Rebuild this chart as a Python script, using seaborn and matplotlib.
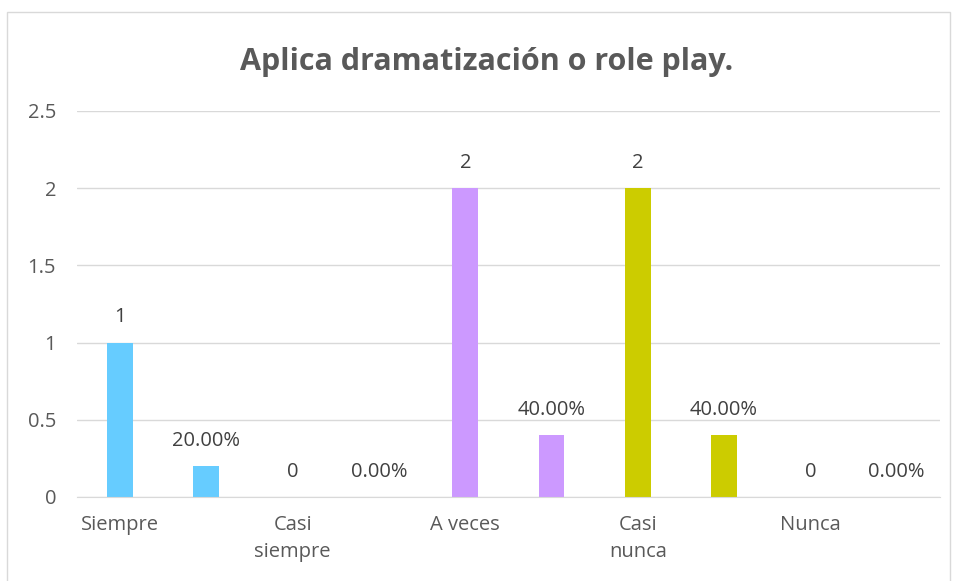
import seaborn as sns
import matplotlib.pyplot as plt
from matplotlib.patches import Rectangle

# data
slots = ["Siempre", "Siempre %", "Casi siempre", "Casi siempre %", "A veces",
         "A veces %", "Casi nunca", "Casi nunca %", "Nunca", "Nunca %"]
values = [1, 0.2, 0, 0, 2, 0.4, 2, 0.4, 0, 0]
value_labels = ["1", "20.00%", "0", "0.00%", "2", "40.00%", "2", "40.00%", "0", "0.00%"]
tick_labels = ["Siempre", "", "Casi\nsiempre", "", "A veces", "", "Casi\nnunca", "", "Nunca", ""]
colors = ["#66CCFF", "#66CCFF", "#66CCFF", "#66CCFF", "#CC99FF",
          "#CC99FF", "#CCCC00", "#CCCC00", "#CCCC00", "#CCCC00"]

sns.set_style("white")
plt.rcParams["font.family"] = ["Open Sans", "DejaVu Sans"]

fig = plt.figure(figsize=(9.55, 5.81), dpi=100)
ax = fig.add_axes([0.0806, 0.1446, 0.9035, 0.6644])

sns.barplot(x=slots, y=values, hue=slots, palette=colors, legend=False,
            width=0.3, saturation=1, linewidth=0, ax=ax)

ax.set_ylim(0, 2.5)
ax.set_xlim(-0.5, 9.5)
ax.set_yticks([0, 0.5, 1, 1.5, 2, 2.5])
ax.set_yticklabels(["0", "0.5", "1", "1.5", "2", "2.5"])
ax.set_xticks(range(len(slots)))
ax.set_xticklabels(tick_labels, linespacing=1.45)
ax.yaxis.grid(True, color="#d9d9d9", linewidth=1)
ax.set_axisbelow(True)
sns.despine(ax=ax, left=True, top=True, right=True)
ax.spines["bottom"].set_color("#d9d9d9")
ax.tick_params(axis="y", length=0, pad=15, labelsize=14.5, labelcolor="#595959")
ax.tick_params(axis="x", length=0, pad=13, labelsize=14.5, labelcolor="#595959")
ax.set_xlabel("")
ax.set_ylabel("")

for i, (v, lab) in enumerate(zip(values, value_labels)):
    ax.annotate(lab, (i, v), xytext=(0, 11), textcoords="offset points",
                ha="center", va="bottom", fontsize=14.5, color="#404040")

fig.text(0.51, 0.893, "Aplica dramatización o role play.", ha="center", va="center",
         fontsize=22, fontweight="bold", color="#595959")

fig.patches.append(Rectangle((7 / 955, -0.01), 943 / 955, 1 - 12 / 581 + 0.01,
                             transform=fig.transFigure, fill=False,
                             edgecolor="#d9d9d9", linewidth=1))

fig.savefig("out.png", dpi=100)
